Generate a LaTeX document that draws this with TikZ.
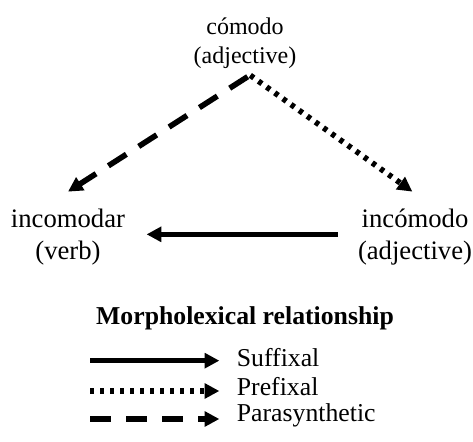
\documentclass[tikz,border=0pt]{standalone}
\usepackage{fontspec}
\setmainfont{Liberation Serif}
\usetikzlibrary{arrows.meta}

\tikzset{
  word/.style={align=center, inner sep=2pt, font=\fontsize{20}{23.5}\selectfont},
  topword/.style={word, font=\fontsize{18}{21.8}\selectfont},
  key/.style={align=left, inner sep=2pt, anchor=west, font=\fontsize{19.3}{22}\selectfont},
  rel/.style={line width=4.2pt, -{Triangle[length=11pt, width=11pt]}},
  suffixal/.style={rel},
  prefixal/.style={rel, dash pattern=on 3.2pt off 4.3pt},
  parasynth/.style={rel, dash pattern=on 16pt off 11pt},
}

\begin{document}
\begin{tikzpicture}[x=0.75pt, y=-0.75pt]
\useasboundingbox (0,0) rectangle (473,441);

% Words
\node[topword] (base) at (245,43) {cómodo\\(adjective)};
\node[word] (verb) at (68,237) {incomodar\\(verb)};
\node[word] (adj) at (415,237) {incómodo\\(adjective)};

% Relationships
\draw[parasynth] ([xshift=2pt,yshift=-4pt]base.south) -- ([yshift=11pt]verb.north);
\draw[prefixal] ([xshift=4pt,yshift=-3pt]base.south) -- ([xshift=-2pt,yshift=11pt]adj.north);
\draw[suffixal] ([xshift=-13pt,yshift=2pt]adj.west) -- ([xshift=14pt,yshift=2pt]verb.east);

% Legend
\node[key, anchor=center, font=\fontsize{19.3}{22}\selectfont\bfseries] (title) at (245,318) {Morpholexical relationship};
\node[key] (suf) at (234,358) {Suffixal};
\node[key] (pre) at (234,387) {Prefixal};
\node[key] (par) at (234,415) {Parasynthetic};
\draw[suffixal] ([xshift=-108pt,yshift=-2pt]suf.west) -- ([xshift=-11pt,yshift=-2pt]suf.west);
\draw[prefixal] ([xshift=-108pt,yshift=-3pt]pre.west) -- ([xshift=-11pt,yshift=-3pt]pre.west);
\draw[parasynth] ([xshift=-108pt,yshift=-3pt]par.west) -- ([xshift=-11pt,yshift=-3pt]par.west);
\end{tikzpicture}
\end{document}
